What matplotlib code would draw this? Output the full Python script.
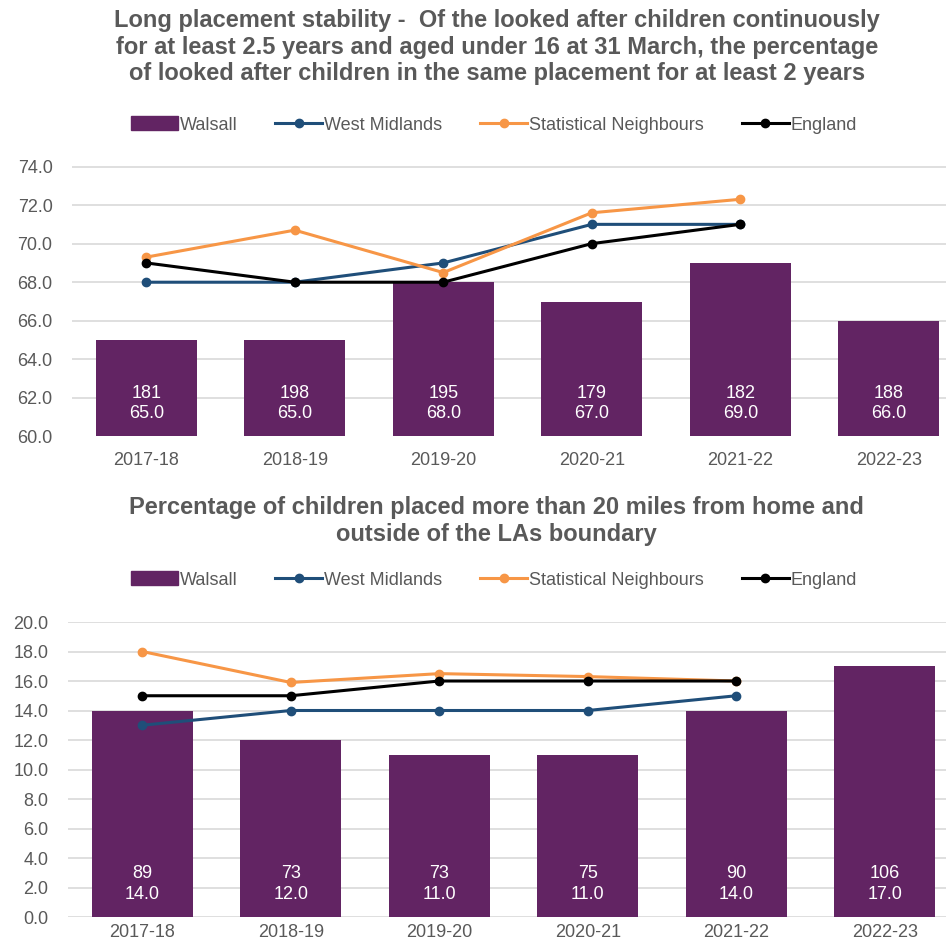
import numpy as np
import matplotlib
matplotlib.use('Agg')
from matplotlib import pyplot as plt
from matplotlib.patches import Patch
from matplotlib.lines import Line2D

plt.rcParams['font.family'] = ['Liberation Sans', 'DejaVu Sans']

years = ['2017-18', '2018-19', '2019-20', '2020-21', '2021-22', '2022-23']

# chart 1 - long placement stability
stab_walsall = [65.0, 65.0, 68.0, 67.0, 69.0, 66.0]
stab_counts = [181, 198, 195, 179, 182, 188]
stab_wm = [68.0, 68.0, 69.0, 71.0, 71.0]
stab_sn = [69.3, 70.7, 68.5, 71.6, 72.3]
stab_eng = [69.0, 68.0, 68.0, 70.0, 71.0]

# chart 2 - placed more than 20 miles from home
dist_walsall = [14.0, 12.0, 11.0, 11.0, 14.0, 17.0]
dist_counts = [89, 73, 73, 75, 90, 106]
dist_wm = [13.0, 14.0, 14.0, 14.0, 15.0]
dist_sn = [18.0, 15.9, 16.5, 16.3, 16.0]
dist_eng = [15.0, 15.0, 16.0, 16.0, 16.0]

PURPLE = '#622463'
BLUE = '#1F4E79'
ORANGE = '#F79646'
BLACK = '#000000'
GREY = '#595959'

fig = plt.figure(figsize=(9.46, 9.47), dpi=100)


def draw(ax, walsall, counts, wm, sn, eng, ymin, ymax, title, title_y, legend_y, xpad):
    x = np.arange(len(years))
    ax.bar(x, walsall, width=0.68, color=PURPLE, bottom=0, zorder=2)
    xl = np.arange(len(wm))
    ax.plot(xl, wm, color=BLUE, lw=2.2, marker='o', ms=6, zorder=3)
    ax.plot(xl, sn, color=ORANGE, lw=2.2, marker='o', ms=6, zorder=3)
    ax.plot(xl, eng, color=BLACK, lw=2.2, marker='o', ms=6, zorder=4)
    for i in range(len(years)):
        ax.annotate('%d\n%.1f' % (counts[i], walsall[i]), xy=(i, ymin),
                    xytext=(0, 33), textcoords='offset pixels',
                    ha='center', va='center', color='white', fontsize=13,
                    linespacing=1.3, zorder=5)
    ax.set_ylim(ymin, ymax)
    ax.set_xlim(-0.5, 5.5)
    ax.set_yticks(np.arange(ymin, ymax + 0.1, 2))
    ax.set_yticklabels(['%.1f' % v for v in np.arange(ymin, ymax + 0.1, 2)])
    ax.set_xticks(x)
    ax.set_xticklabels(years)
    ax.tick_params(colors=GREY, labelsize=13, length=0)
    ax.tick_params(axis='x', pad=xpad)
    ax.tick_params(axis='y', pad=14)
    ax.grid(axis='y', color='#D9D9D9', lw=1.2, zorder=0)
    for s in ax.spines.values():
        s.set_visible(False)
    fig.text(0.525, title_y, title, ha='center', va='top', fontsize=17,
             fontweight='bold', color=GREY, linespacing=1.2)
    handles = [Patch(color=PURPLE, label='Walsall'),
               Line2D([], [], color=BLUE, lw=2.2, marker='o', ms=6, label='West Midlands'),
               Line2D([], [], color=ORANGE, lw=2.2, marker='o', ms=6, label='Statistical Neighbours'),
               Line2D([], [], color=BLACK, lw=2.2, marker='o', ms=6, label='England')]
    fig.legend(handles=handles, loc='center', bbox_to_anchor=(0.522, legend_y), ncol=4,
               frameon=False, fontsize=13, labelcolor=GREY, handlelength=2.6,
               handletextpad=0.1, columnspacing=2.1, handleheight=0.8)


ax1 = fig.add_axes([72 / 946, 1 - 436.5 / 947, 891 / 946, 270 / 947])
draw(ax1, stab_walsall, stab_counts, stab_wm, stab_sn, stab_eng, 60, 74,
     'Long placement stability -  Of the looked after children continuously\n'
     'for at least 2.5 years and aged under 16 at 31 March, the percentage\n'
     'of looked after children in the same placement for at least 2 years',
     1 - 9 / 947, 1 - 125 / 947, 11)

ax2 = fig.add_axes([68 / 946, 1 - 917 / 947, 891 / 946, 295 / 947])
draw(ax2, dist_walsall, dist_counts, dist_wm, dist_sn, dist_eng, 0, 20,
     'Percentage of children placed more than 20 miles from home and\n'
     'outside of the LAs boundary',
     1 - 496 / 947, 1 - 580 / 947, 5)

fig.savefig('out.png', dpi=100)
